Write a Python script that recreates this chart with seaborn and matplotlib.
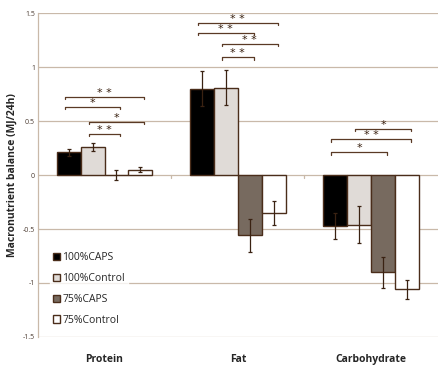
import numpy as np
import pandas as pd
import matplotlib
matplotlib.use("Agg")
import matplotlib.pyplot as plt
import seaborn as sns

# data
nutrients = ['Protein', 'Fat', 'Carbohydrate']
groups = ['100%CAPS', '100%Control', '75%CAPS', '75%Control']
caps100 = [0.21, 0.80, -0.47]
ctrl100 = [0.26, 0.81, -0.46]
caps75 = [0.00, -0.56, -0.90]
ctrl75 = [0.05, -0.35, -1.06]
err_caps100 = [0.035, 0.16, 0.12]
err_ctrl100 = [0.04, 0.165, 0.17]
err_caps75 = [0.05, 0.15, 0.145]
err_ctrl75 = [0.025, 0.11, 0.085]

# significance brackets: (nutrient index, bar a, bar b, height, label)
brackets = [
    (0, 0, 3, 0.72, '* *'), (0, 0, 2, 0.63, '*'), (0, 1, 3, 0.49, '*'), (0, 1, 2, 0.38, '* *'),
    (1, 0, 3, 1.41, '* *'), (1, 0, 2, 1.32, '* *'), (1, 1, 3, 1.215, '* *'), (1, 1, 2, 1.09, '* *'),
    (2, 1, 3, 0.43, '*'), (2, 0, 3, 0.33, '* *'), (2, 0, 2, 0.21, '*'),
]

values = [caps100, ctrl100, caps75, ctrl75]
errors = [err_caps100, err_ctrl100, err_caps75, err_ctrl75]
df = pd.DataFrame({
    'Nutrient': [n for g in groups for n in nutrients],
    'Group': [g for g in groups for n in nutrients],
    'Value': [v for vals in values for v in vals],
})

sns.set_style('white')
plt.rcParams['font.family'] = ['Open Sans', 'DejaVu Sans']

edge = '#4a2d1a'
grid_c = '#c9b9a9'
palette = ['#000000', '#e2dbd5', '#7b6a5b', '#ffffff']

fig = plt.figure(figsize=(4.4, 3.74), dpi=100)
ax = fig.add_axes([0.086, 0.099, 0.909, 0.866])

for y in [-1.5, -1, -0.5, 0.5, 1, 1.5]:
    ax.axhline(y, color=grid_c, lw=0.9, zorder=0)
ax.axhline(0, color=grid_c, lw=0.9, zorder=1)
for xb in [0.5, 1.5]:
    ax.plot([xb, xb], [0, -0.03], color=grid_c, lw=0.9, zorder=1)

sns.barplot(data=df, x='Nutrient', y='Value', hue='Group', order=nutrients, hue_order=groups,
            palette=palette, width=0.72, errorbar=None, edgecolor=edge, linewidth=1.0,
            ax=ax, zorder=2)

# error bars and bar centres
bar_conts = list(ax.containers)
centers = {}
for gi, cont in enumerate(bar_conts):
    for ni, bar in enumerate(cont.patches):
        cx = bar.get_x() + bar.get_width() / 2
        centers[(ni, gi)] = cx
        ax.errorbar(cx, values[gi][ni], yerr=errors[gi][ni], fmt='none', ecolor='#3a2212',
                    elinewidth=0.9, capsize=1.5, capthick=0.9, zorder=4)

for ni, a, b, h, lab in brackets:
    xa, xb2 = centers[(ni, a)] - 0.03, centers[(ni, b)] + 0.03
    ax.plot([xa, xa, xb2, xb2], [h - 0.02, h, h, h - 0.02], color='#5a3a25', lw=0.9, zorder=5)
    ax.text((xa + xb2) / 2, h - 0.01, lab, ha='center', va='bottom', fontsize=8,
            color='#3a2212', family='DejaVu Sans')

ax.set_xlim(-0.5, 2.5)
ax.set_ylim(-1.5, 1.5)
ax.set_yticks([-1.5, -1, -0.5, 0, 0.5, 1, 1.5])
ax.set_yticklabels(['-1.5', '-1', '-0.5', '0', '0.5', '1', '1.5'], fontsize=5, color='#4a3a30')
ax.set_xticks([0, 1, 2])
ax.set_xticklabels(nutrients, fontsize=7.5, fontweight='bold')
ax.tick_params(axis='x', length=0, pad=12)
ax.tick_params(axis='y', length=0, pad=2)
ax.set_xlabel('')
ax.set_ylabel('Macronutrient balance (MJ/24h)', fontsize=7.5, fontweight='bold', labelpad=4)
for s in ['top', 'right', 'bottom']:
    ax.spines[s].set_visible(False)
ax.spines['left'].set_color(grid_c)
ax.spines['left'].set_linewidth(0.9)

leg = ax.legend(loc='lower left', bbox_to_anchor=(0.03, 0.025), frameon=True, fontsize=7.5,
                handlelength=0.7, handleheight=0.7, handletextpad=0.2, labelspacing=0.95,
                borderpad=0.3, borderaxespad=0)
leg.get_frame().set_facecolor('white')
leg.get_frame().set_edgecolor('white')
leg.set_zorder(6)

fig.savefig('out.png', dpi=100)
